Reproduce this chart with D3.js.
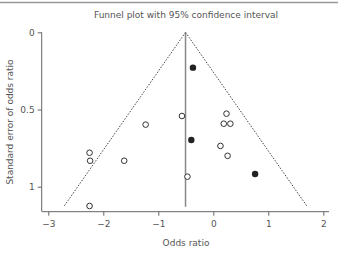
<!DOCTYPE html>
<html>
<head>
<meta charset="utf-8">
<script src="https://cdn.jsdelivr.net/npm/d3@7"></script>
<style>
  body { margin: 0; background: #fff; }
  text { font-family: "DejaVu Sans", sans-serif; fill: #555; }
</style>
</head>
<body>
<div id="chart"></div>
<script>
// log odds ratio and its standard error, one entry per study
const openOR = [-0.57, -1.23, 0.24, 0.19, 0.31, 0.13, 0.26, -2.25, -2.24, -1.62, -0.47, -2.25];
const openSE = [0.542, 0.598, 0.527, 0.592, 0.592, 0.736, 0.80, 0.78, 0.832, 0.832, 0.935, 1.125];
const filledOR = [-0.37, -0.40, 0.76];
const filledSE = [0.229, 0.698, 0.918];
const pooled = -0.505;
const funnelSE = [0, 1.123];
const xTicks = [-3, -2, -1, 0, 1, 2];
const yTicks = [0, 0.5, 1];

const w = 338, h = 255;
const svg = d3.select("#chart")
  .append("svg")
  .attr("width", w)
  .attr("height", h);

const x = d3.scaleLinear().domain([-3, 2]).range([48.3, 323.3]);
const y = d3.scaleLinear().domain([0, 1]).range([32.3, 186.7]);

// rule across the top
svg.append("line")
  .attr("x1", 0).attr("x2", w)
  .attr("y1", 2.5).attr("y2", 2.5)
  .attr("stroke", "#999").attr("stroke-width", 1.5);

svg.append("text")
  .attr("x", 186).attr("y", 18)
  .attr("text-anchor", "middle")
  .style("font-size", "9px")
  .text("Funnel plot with 95% confidence interval");

// axes
const xAxis = svg.append("g")
  .attr("transform", "translate(0,211.7)")
  .call(d3.axisBottom(x).tickValues(xTicks).tickSize(4).tickPadding(5)
    .tickFormat(d => d < 0 ? "\u2212" + Math.abs(d) : d));
xAxis.select(".domain").attr("d", "M42,0H329");

const yAxis = svg.append("g")
  .attr("transform", "translate(41.7,0)")
  .call(d3.axisLeft(y).tickValues(yTicks).tickSize(4).tickPadding(3)
    .tickFormat(d => String(d)));
yAxis.select(".domain").attr("d", "M0,32.3V211.7");

[xAxis, yAxis].forEach(g => {
  g.selectAll("path, line").attr("stroke", "#666");
  g.selectAll("text").style("font-size", "9px").style("fill", "#555").style("font-family", "DejaVu Sans, sans-serif");
});

svg.append("text")
  .attr("x", 186).attr("y", 246)
  .attr("text-anchor", "middle")
  .style("font-size", "9px")
  .text("Odds ratio");

svg.append("text")
  .attr("transform", "translate(13,122)rotate(-90)")
  .attr("text-anchor", "middle")
  .style("font-size", "9px")
  .text("Standard error of odds ratio");

// funnel: pooled estimate +/- 1.96 SE
[-1, 1].forEach(s => {
  svg.append("line")
    .attr("x1", x(pooled)).attr("y1", y(funnelSE[0]))
    .attr("x2", x(pooled + s * 1.96 * funnelSE[1])).attr("y2", y(funnelSE[1]))
    .attr("stroke", "#444").attr("stroke-width", 1)
    .attr("stroke-dasharray", "1.5,1.5");
});

svg.append("line")
  .attr("x1", x(pooled)).attr("x2", x(pooled))
  .attr("y1", y(0)).attr("y2", y(1.13))
  .attr("stroke", "#888").attr("stroke-width", 1.5);

svg.append("g").selectAll("circle")
  .data(openOR.map((d, i) => [d, openSE[i]]))
  .enter().append("circle")
  .attr("cx", d => x(d[0])).attr("cy", d => y(d[1]))
  .attr("r", 2.8)
  .attr("fill", "#fff").attr("stroke", "#333").attr("stroke-width", 1);

svg.append("g").selectAll("circle")
  .data(filledOR.map((d, i) => [d, filledSE[i]]))
  .enter().append("circle")
  .attr("cx", d => x(d[0])).attr("cy", d => y(d[1]))
  .attr("r", 3.2)
  .attr("fill", "#222");
</script>
</body>
</html>
